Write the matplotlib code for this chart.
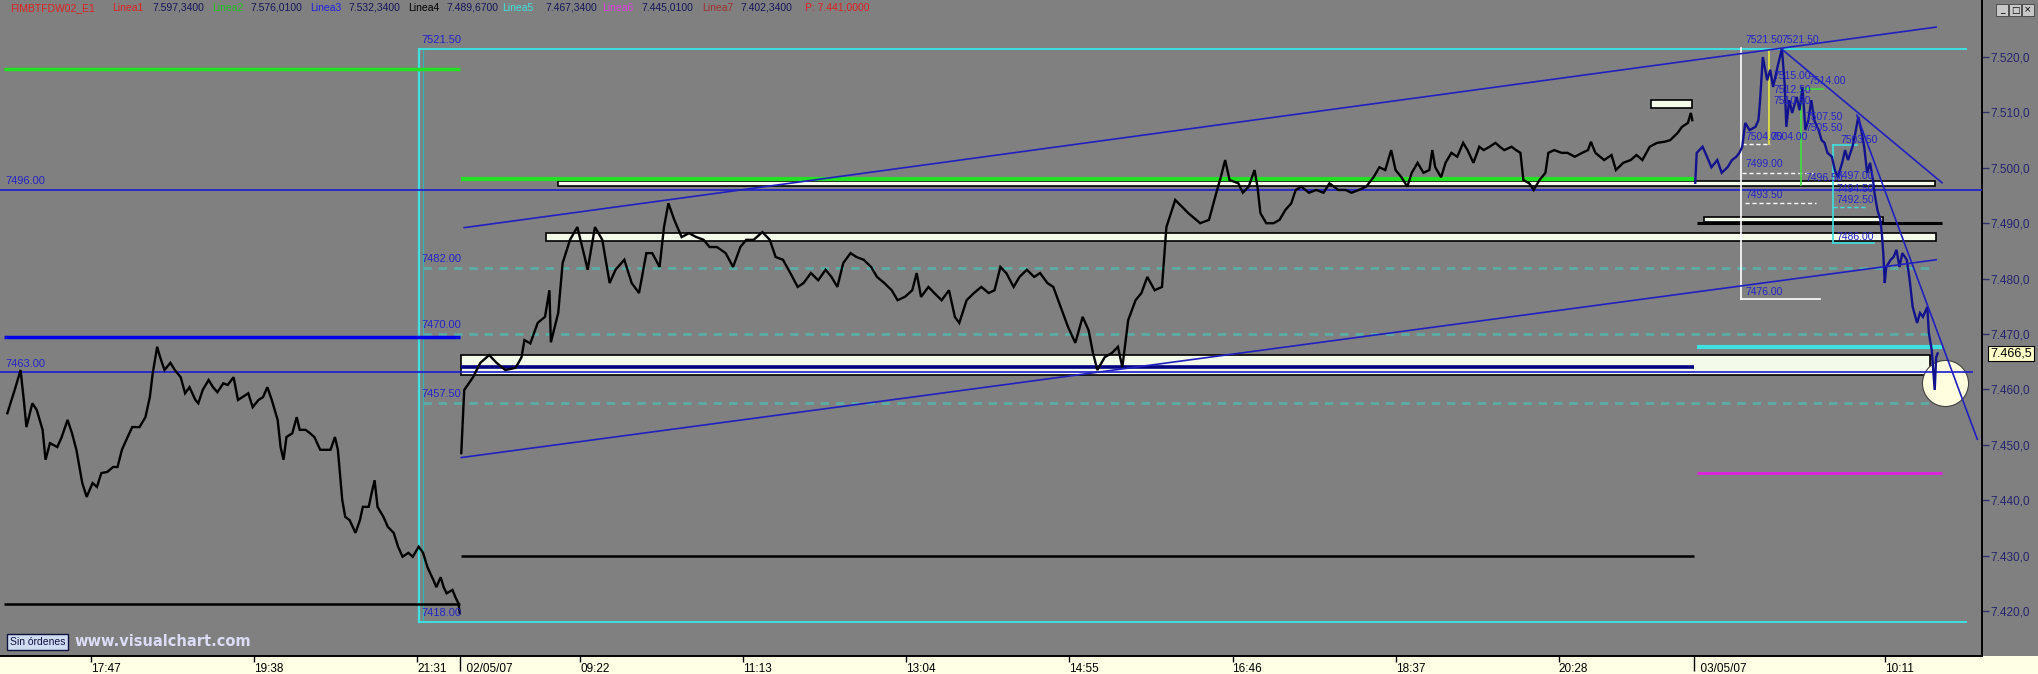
import matplotlib
matplotlib.use("Agg")
import matplotlib.pyplot as plt
from matplotlib.patches import Rectangle
from matplotlib.ticker import FuncFormatter

plt.rcParams['font.family'] = ['Liberation Sans', 'DejaVu Sans']

# ---------------- data ----------------
# bar index (1-minute bars) and price
DAY0 = [(5, 7455.7), (10, 7459.9), (14, 7463.5), (16, 7458.6), (18, 7453.2), (22, 7457.5), (25, 7456.3),
        (29, 7452.7), (31, 7447.3), (34, 7450.3), (39, 7449.6), (42, 7451.4), (46, 7454.5), (49, 7452.1),
        (52, 7449.1), (56, 7443.1), (59, 7440.6), (63, 7443.1), (66, 7442.4), (69, 7444.9), (73, 7445.1),
        (77, 7446.0), (80, 7446.0), (83, 7449.1), (86, 7450.9), (90, 7453.2), (95, 7453.2), (99, 7455.0),
        (102, 7458.6), (104, 7463.0), (107, 7467.7), (109, 7465.8), (112, 7463.5), (116, 7464.8),
        (119, 7463.5), (123, 7462.2), (126, 7459.3), (129, 7460.4), (133, 7458.1), (135, 7457.5),
        (138, 7459.9), (142, 7461.7), (145, 7460.4), (148, 7459.5), (152, 7461.1), (155, 7460.8),
        (159, 7462.2), (162, 7458.1), (165, 7458.6), (169, 7459.3), (172, 7456.8), (176, 7458.1),
        (179, 7458.6), (182, 7460.4), (185, 7458.1), (189, 7454.5), (191, 7449.6), (193, 7447.3),
        (195, 7451.4), (199, 7452.1), (202, 7455.0), (204, 7452.7), (208, 7452.7), (211, 7452.1),
        (214, 7451.4), (218, 7449.1), (221, 7449.1), (225, 7449.1), (228, 7451.4), (230, 7449.1),
        (233, 7440.0), (235, 7437.0), (238, 7436.4), (242, 7434.1), (245, 7436.4), (247, 7438.8),
        (251, 7438.8), (253, 7441.3), (255, 7443.6), (257, 7438.8), (261, 7437.0), (264, 7435.2),
        (268, 7434.1), (271, 7431.6), (274, 7429.8), (278, 7430.5), (281, 7429.8), (285, 7431.6),
        (288, 7430.5), (291, 7427.9), (295, 7425.6), (297, 7424.3), (300, 7426.1), (302, 7424.3),
        (304, 7423.2), (308, 7423.8), (310, 7422.5), (312, 7421.4), (313, 7419.6)]

DAY1 = [(314, 7448.5), (316, 7459.9), (322, 7462.2), (327, 7464.8), (333, 7466.2), (338, 7464.8),
        (344, 7463.5), (351, 7463.9), (355, 7465.8), (357, 7468.9), (361, 7468.3), (366, 7472.0),
        (371, 7473.1), (374, 7477.9), (375, 7468.5), (380, 7473.8), (383, 7482.8), (388, 7487.0),
        (393, 7489.3), (398, 7483.9), (400, 7481.6), (405, 7489.3), (410, 7487.0), (415, 7479.2),
        (419, 7481.6), (425, 7483.4), (430, 7479.2), (435, 7477.4), (440, 7484.6), (444, 7484.6),
        (449, 7482.1), (452, 7489.3), (455, 7493.6), (459, 7490.6), (464, 7487.5), (469, 7488.2),
        (474, 7487.5), (479, 7487.0), (483, 7485.7), (488, 7485.7), (494, 7484.6), (499, 7482.1),
        (504, 7485.7), (508, 7487.0), (513, 7487.0), (519, 7488.4), (524, 7487.0), (528, 7483.9),
        (533, 7483.4), (538, 7481.0), (543, 7478.5), (547, 7479.2), (552, 7481.0), (557, 7479.7),
        (562, 7481.6), (566, 7480.3), (570, 7478.5), (574, 7482.8), (579, 7484.6), (583, 7483.9),
        (588, 7483.4), (593, 7482.1), (597, 7480.3), (602, 7479.2), (607, 7477.9), (611, 7476.1),
        (616, 7476.7), (621, 7477.9), (624, 7481.0), (627, 7476.7), (632, 7478.5), (636, 7477.4),
        (641, 7476.1), (646, 7477.9), (650, 7473.1), (653, 7472.0), (658, 7476.1), (663, 7477.4),
        (668, 7478.5), (673, 7477.4), (677, 7477.9), (681, 7482.1), (685, 7481.0), (690, 7478.5),
        (694, 7480.3), (699, 7481.6), (704, 7480.3), (708, 7481.0), (713, 7479.2), (717, 7478.5),
        (722, 7474.9), (727, 7471.3), (732, 7468.4), (737, 7473.1), (741, 7470.7), (744, 7466.6),
        (747, 7463.5), (752, 7465.8), (757, 7466.6), (761, 7467.7), (764, 7464.0), (768, 7472.5),
        (773, 7476.1), (777, 7477.4), (781, 7480.3), (786, 7477.9), (791, 7478.5), (794, 7489.3),
        (800, 7494.2), (809, 7491.8), (817, 7490.0), (823, 7490.6), (828, 7495.5), (831, 7498.3),
        (834, 7501.4), (837, 7497.8), (843, 7497.2), (846, 7495.5), (850, 7496.6), (854, 7499.6),
        (856, 7496.6), (858, 7491.8), (862, 7490.0), (867, 7490.0), (871, 7490.6), (875, 7492.4),
        (879, 7493.6), (882, 7496.0), (886, 7496.6), (891, 7495.5), (896, 7496.0), (901, 7495.5),
        (905, 7497.2), (911, 7496.0), (916, 7496.0), (920, 7495.5), (925, 7496.0), (930, 7496.6),
        (935, 7498.3), (939, 7500.1), (943, 7499.6), (947, 7503.2), (950, 7499.6), (954, 7498.3),
        (958, 7496.6), (961, 7499.1), (965, 7500.9), (969, 7499.1), (973, 7499.6), (975, 7503.2),
        (977, 7500.1), (981, 7498.3), (984, 7500.9), (988, 7502.7), (992, 7502.0), (996, 7504.5),
        (999, 7503.2), (1003, 7500.9), (1007, 7503.8), (1010, 7503.2), (1014, 7503.8), (1018, 7504.5),
        (1021, 7503.8), (1024, 7503.2), (1029, 7503.8), (1032, 7503.2), (1035, 7502.7), (1037, 7497.8),
        (1041, 7497.2), (1044, 7496.0), (1048, 7497.8), (1052, 7499.1), (1054, 7502.7), (1058, 7503.2),
        (1063, 7502.7), (1067, 7502.7), (1072, 7502.0), (1077, 7502.7), (1081, 7503.2), (1083, 7504.7),
        (1086, 7502.7), (1092, 7501.4), (1097, 7502.3), (1100, 7499.6), (1105, 7500.9), (1110, 7501.4),
        (1114, 7502.3), (1118, 7501.4), (1123, 7503.8), (1128, 7504.5), (1133, 7504.7), (1137, 7505.0),
        (1142, 7506.3), (1145, 7507.4), (1149, 7508.1), (1151, 7509.9), (1152, 7508.6)]

DAY2 = [(1154, 7497.3), (1155, 7502.7), (1159, 7503.8), (1162, 7502.0), (1165, 7500.1), (1169, 7501.4),
        (1172, 7499.1), (1176, 7500.1), (1179, 7501.4), (1182, 7502.0), (1184, 7502.7), (1186, 7503.8),
        (1188, 7508.1), (1191, 7506.8), (1195, 7507.4), (1197, 7508.6), (1198, 7511.7), (1200, 7520.0),
        (1203, 7515.8), (1205, 7517.7), (1207, 7514.6), (1210, 7518.2), (1213, 7521.5), (1215, 7514.6),
        (1216, 7507.4), (1218, 7512.2), (1220, 7509.9), (1223, 7512.8), (1225, 7510.4), (1227, 7514.6),
        (1229, 7506.8), (1231, 7508.6), (1233, 7512.2), (1235, 7508.6), (1238, 7506.8), (1240, 7505.0),
        (1242, 7504.5), (1244, 7502.7), (1247, 7502.0), (1249, 7499.6), (1251, 7498.3), (1254, 7500.9),
        (1256, 7503.2), (1258, 7501.4), (1261, 7503.8), (1263, 7506.3), (1265, 7509.2), (1267, 7506.8),
        (1269, 7503.8), (1271, 7499.1), (1273, 7500.9), (1275, 7497.8), (1276, 7495.5), (1278, 7492.4),
        (1280, 7490.6), (1281, 7488.2), (1282, 7484.6), (1283, 7479.2), (1284, 7482.1), (1287, 7483.4),
        (1289, 7483.9), (1291, 7485.2), (1293, 7482.1), (1295, 7484.6), (1298, 7483.4), (1300, 7479.7),
        (1302, 7474.9), (1305, 7472.0), (1307, 7473.8), (1309, 7473.1), (1312, 7474.9), (1313, 7470.2),
        (1315, 7467.1), (1316, 7463.5), (1317, 7459.9), (1318, 7465.8), (1319, 7466.5)]

XTICK_BARS = [62, 173, 284, 395, 506, 617, 728, 839, 950, 1061, 1283]
XTICK_LABELS = ['17:47', '19:38', '21:31', '09:22', '11:13', '13:04', '14:55', '16:46', '18:37', '20:28', '10:11']
DATE_BARS = [313, 1153]
DATE_LABELS = ['02/05/07', '03/05/07']
YTICKS = [7420, 7430, 7440, 7450, 7460, 7470, 7480, 7490, 7500, 7510, 7520]
LAST_PRICE = 7466.5

# Fibonacci box
FIB_HIGH, FIB_LOW = 7521.5, 7418.0
FIB_START, FIB_END = 285, 1338
FIB_LEVELS = [7482.0, 7470.0, 7457.5]
FIB_SPAN = (288, 1313)

# horizontal level lines: value, start bar, end bar
LEVEL_VALUES = [7517.9, 7469.5, 7421.3, 7496.0, 7463.1, 7498.0, 7464.0, 7430.0, 7490.0, 7467.6, 7445.0]
LEVEL_STARTS = [3, 3, 3, 0, 0, 314, 314, 314, 1155, 1155, 1155]
LEVEL_ENDS = [313, 313, 313, 1349, 1343, 1153, 1153, 1153, 1322, 1322, 1322]

# support / resistance zones
ZONE_LOW = [7496.7, 7486.8, 7462.6, 7510.8, 7490.2]
ZONE_HIGH = [7497.6, 7488.3, 7466.2, 7512.2, 7491.1]
ZONE_START = [380, 372, 314, 1124, 1160]
ZONE_END = [1317, 1318, 1314, 1152, 1282]

# trend lines
TREND_X0 = [316, 314, 1213, 1264]
TREND_Y0 = [7489.2, 7447.7, 7521.4, 7509.5]
TREND_X1 = [1318, 1318, 1322, 1346]
TREND_Y1 = [7525.4, 7483.4, 7497.3, 7451.0]

# price labels (text, bar, level)
LEFT_LABELS = [('7521.50', 287, 7521.5), ('7482.00', 287, 7482.0), ('7470.00', 287, 7470.0),
               ('7457.50', 287, 7457.5), ('7418.00', 287, 7418.0), ('7496.00', 4, 7496.0),
               ('7463.00', 4, 7463.0)]
RIGHT_LABELS = [('7521.50', 1188, 7521.5), ('7521.50', 1213, 7521.5), ('7515.00', 1207, 7515.0),
                ('7512.50', 1207, 7512.5), ('7510.50', 1207, 7510.5), ('7514.00', 1231, 7514.0),
                ('7507.50', 1229, 7507.5), ('7505.50', 1229, 7505.5), ('7504.00', 1188, 7504.0),
                ('7504.00', 1205, 7504.0), ('7503.50', 1253, 7503.5), ('7499.00', 1188, 7499.0),
                ('7496.50', 1229, 7496.5), ('7497.00', 1250, 7497.0), ('7494.50', 1250, 7494.5),
                ('7493.50', 1188, 7493.5), ('7492.50', 1250, 7492.5), ('7486.00', 1250, 7486.0),
                ('7476.00', 1188, 7476.0)]

CIRCLE_BAR, CIRCLE_PRICE = 1324, 7461.2

HEADER = [('FIMBTFDW02_E1', '#e02020'), ('Linea1', '#e02020'), ('7.597,3400', '#15155a'),
          ('Linea2', '#20c020'), ('7.576,0100', '#15155a'), ('Linea3', '#2020e0'), ('7.532,3400', '#15155a'),
          ('Linea4', '#000000'), ('7.489,6700', '#15155a'), ('Linea5', '#40e0e0'), ('7.467,3400', '#15155a'),
          ('Linea6', '#e040e0'), ('7.445,0100', '#15155a'), ('Linea7', '#a03030'), ('7.402,3400', '#15155a'),
          ('P: 7.441,0000', '#e02020')]
HEADER_X = [10, 112, 152, 212, 250, 310, 348, 408, 446, 502, 545, 602, 641, 702, 740, 805]

# ---------------- figure ----------------
W, H = 2038, 674
GRAY = '#808080'
BLUE = '#1c1cd0'
CYAN = '#3ee0e0'
TEAL = '#5aaea6'
LABEL_BLUE = '#2424c8'

fig = plt.figure(figsize=(W / 100, H / 100), dpi=100)
fig.patch.set_facecolor(GRAY)
fig.add_artist(Rectangle((0, 0), 1, 18 / H, transform=fig.transFigure,
                         fc='#ffffe6', ec='none', zorder=-10))

ax = fig.add_axes([0, 18 / H, 1982 / W, 656 / H])
ax.set_facecolor(GRAY)
ax.set_xlim(0, 1349.2)
ax.set_ylim(7411.88, 7530.29)
for s in ('top', 'left'):
    ax.spines[s].set_visible(False)
for s in ('right', 'bottom'):
    ax.spines[s].set_color('black')
    ax.spines[s].set_linewidth(1.4)

# fib box
ax.plot([FIB_START, FIB_START], [FIB_LOW, FIB_HIGH], color=CYAN, lw=1.6, zorder=1)
ax.plot([FIB_START + 3, FIB_START + 3], [FIB_LOW, FIB_HIGH], color='#2cb8b8', lw=0.8, zorder=1)
ax.plot([FIB_START, FIB_END], [FIB_HIGH, FIB_HIGH], color=CYAN, lw=1.4, zorder=1)
ax.plot([FIB_START, FIB_END], [FIB_LOW, FIB_LOW], color=CYAN, lw=1.4, zorder=1)
for lv in FIB_LEVELS:
    ax.plot(FIB_SPAN, [lv, lv], color=TEAL, lw=2.0, ls=(0, (3, 2.5)), zorder=1)

# zones
for lo, hi, x0, x1 in zip(ZONE_LOW, ZONE_HIGH, ZONE_START, ZONE_END):
    ax.add_patch(Rectangle((x0, lo), x1 - x0, hi - lo, fc='#f4faea', ec='black', lw=1.2, zorder=2))

# circle
ax.scatter([CIRCLE_BAR], [CIRCLE_PRICE], s=1100, marker='o', fc='#ffffe0', ec='#404040',
           lw=0.8, zorder=2.5)

# levels
level_styles = [('#22e022', 2.5), ('#0000e8', 2.5), ('black', 1.8), (BLUE, 1.2), (BLUE, 1.2),
                ('#22e022', 3.0), ('#000080', 2.6), ('black', 1.8), ('black', 2.2),
                (CYAN, 3.0), ('#e020e0', 2.0)]
for v, x0, x1, (c, lw) in zip(LEVEL_VALUES, LEVEL_STARTS, LEVEL_ENDS, level_styles):
    ax.plot([x0, x1], [v, v], color=c, lw=lw, zorder=3, solid_capstyle='butt')

# price series
for data, col in ((DAY0, 'black'), (DAY1, 'black'), (DAY2, '#12128e')):
    bx, py = zip(*data)
    ax.plot(bx, py, color=col, lw=1.7, zorder=4, solid_joinstyle='miter')

# trend lines
for x0, y0, x1, y1 in zip(TREND_X0, TREND_Y0, TREND_X1, TREND_Y1):
    ax.plot([x0, x1], [y0, y1], color='#2020c0', lw=1.2, zorder=5)

# right-side study lines
ax.plot([1185, 1185], [7476.3, 7521.6], color='white', lw=1.2, zorder=3)
ax.plot([1185, 1239], [7476.3, 7476.3], color='white', lw=1.2, zorder=3)
for v, x0, x1 in ((7499.0, 1186, 1234), (7493.6, 1188, 1236), (7504.3, 1186, 1205)):
    ax.plot([x0, x1], [v, v], color='white', lw=1.0, ls=(0, (3, 2)), zorder=3)
ax.plot([1204, 1204], [7504.3, 7521.3], color='#e8e840', lw=1.2, zorder=3)
ax.plot([1226, 1226], [7496.9, 7514.2], color='#40e040', lw=1.2, zorder=3)
ax.plot([1226, 1241], [7514.2, 7514.2], color='#40e040', lw=1.2, zorder=3)
ax.plot([1248, 1248], [7486.4, 7504.1], color=CYAN, lw=1.2, zorder=3)
ax.plot([1248, 1264], [7504.1, 7504.1], color=CYAN, lw=1.2, zorder=3)
ax.plot([1248, 1270], [7492.9, 7492.9], color=CYAN, lw=1.0, ls=(0, (3, 2)), zorder=3)
ax.plot([1248, 1276], [7486.4, 7486.4], color=CYAN, lw=1.2, zorder=3)

# labels
for txt, bx, lv in LEFT_LABELS:
    ax.text(bx, lv + 1.6, txt, color=LABEL_BLUE, fontsize=8, ha='left', va='center', zorder=6)
for txt, bx, lv in RIGHT_LABELS:
    ax.text(bx, lv + 1.6, txt, color=LABEL_BLUE, fontsize=7.5, ha='left', va='center', zorder=6)

# axes ticks
narrow = ['Liberation Sans Narrow', 'Liberation Sans', 'DejaVu Sans']
ax.set_xticks(XTICK_BARS)
ax.set_xticklabels(XTICK_LABELS, fontsize=8.5, family=narrow, ha='left')
ax.set_xticks(DATE_BARS, minor=True)
ax.set_xticklabels(['  ' + d for d in DATE_LABELS], minor=True, fontsize=8.5, family=narrow, ha='left')
ax.tick_params(axis='x', which='major', direction='out', length=4, width=1, color='black',
               labelcolor='black', pad=1)
ax.tick_params(axis='x', which='minor', direction='out', length=11, width=1, color='black',
               labelcolor='black', pad=-6)
for lab in ax.get_xticklabels(minor=False) + ax.get_xticklabels(minor=True):
    lab.set_ha('left')

ax.yaxis.tick_right()
ax.set_yticks(YTICKS)


def fmt(v, pos):
    s = f"{v:,.1f}"
    return s.replace(',', 'X').replace('.', ',').replace('X', '.')


ax.yaxis.set_major_formatter(FuncFormatter(fmt))
ax.tick_params(axis='y', direction='out', length=5, width=1, color='#30306a',
               labelcolor='#24246e', labelsize=8.5, pad=1)

# last price flag
ax.annotate(fmt(LAST_PRICE, None), xy=(1.0, LAST_PRICE),
            xycoords=('axes fraction', 'data'), xytext=(6, 0), textcoords='offset points',
            ha='left', va='center', fontsize=9, color='black', annotation_clip=False, zorder=10,
            bbox=dict(boxstyle='square,pad=0.15', fc='#ffffc8', ec='black', lw=0.8))

# header
for (txt, col), x in zip(HEADER, HEADER_X):
    fig.text(x / W, 1 - 8 / H, txt, color=col, fontsize=7.5, ha='left', va='center')

# window buttons
for i, sym in enumerate(['_', '□', '×']):
    x0 = 1996 + i * 13
    fig.add_artist(Rectangle((x0 / W, (H - 16) / H), 12 / W, 12 / H, transform=fig.transFigure,
                             fc='#c8c8c8', ec='#404040', lw=0.6, zorder=5))
    fig.text((x0 + 6) / W, (H - 10) / H, sym, fontsize=6.5, ha='center', va='center',
             color='black', family=['DejaVu Sans'], zorder=6)

# bottom-left info
fig.text(10 / W, (H - 642) / H, 'Sin órdenes', fontsize=7.5, color='#101040', ha='left', va='center',
         bbox=dict(boxstyle='square,pad=0.25', fc='#cfdcf2', ec='#101040', lw=1.0))
fig.text(74 / W, (H - 642) / H, 'www.visualchart.com', fontsize=10.5, weight='bold',
         color='#dcdcf6', ha='left', va='center', family=['DejaVu Sans'])

fig.savefig('out.png', dpi=100, facecolor=fig.get_facecolor())
